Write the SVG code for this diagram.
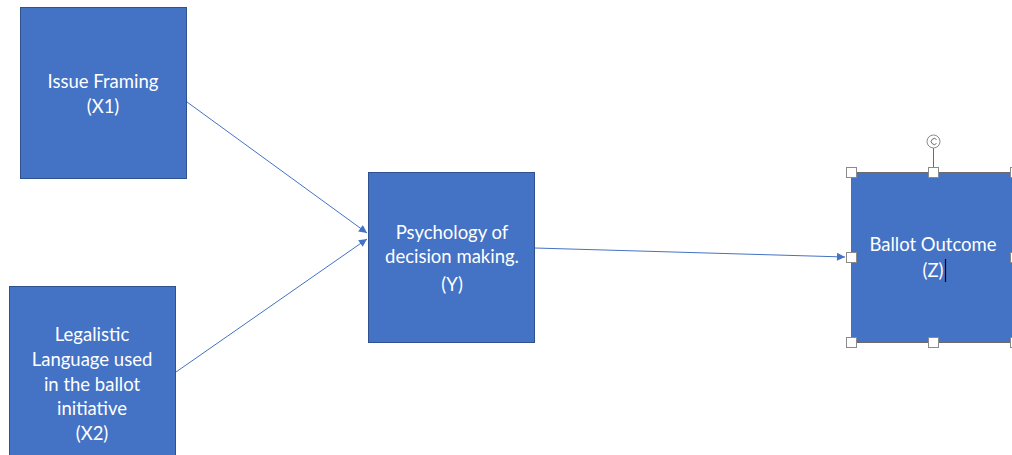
<svg xmlns="http://www.w3.org/2000/svg" width="1012" height="455" viewBox="0 0 1012 455">
<style>
.box{fill:#4472C4;stroke:#2F528F;stroke-width:1}
.sel{fill:#4472C4;stroke:#6b6b6b;stroke-width:1}
.t{font-family:Lato,"Liberation Sans",Arial,sans-serif;font-size:18.5px;fill:#ffffff;text-anchor:middle}
.c{stroke:#4472C4;stroke-width:1;fill:none;marker-end:url(#ah)}
.h{fill:#ffffff;stroke:#8a8a8a;stroke-width:1}
</style>
<defs>
<marker id="ah" viewBox="0 0 10 10" refX="10" refY="5" markerWidth="9" markerHeight="8" markerUnits="userSpaceOnUse" orient="auto">
<path d="M0,0 L10,5 L0,10 Z" fill="#4472C4"/>
</marker>
</defs>
<rect width="1012" height="455" fill="#ffffff"/>
<g id="connectors">
<line class="c" x1="187" y1="102" x2="367" y2="233"/>
<line class="c" x1="176" y1="372" x2="367" y2="239"/>
<line class="c" x1="535" y1="248" x2="845" y2="257"/>
</g>
<g id="node-x1">
<rect class="box" x="20.5" y="7.5" width="166" height="171"/>
<text class="t" x="103" y="88">Issue Framing</text>
<text class="t" x="103" y="113">(X1)</text>
</g>
<g id="node-x2">
<rect class="box" x="9.5" y="286.5" width="166" height="175"/>
<text class="t" x="92" y="341">Legalistic</text>
<text class="t" x="92" y="366">Language used</text>
<text class="t" x="92" y="391">in the ballot</text>
<text class="t" x="92" y="415">initiative</text>
<text class="t" x="92" y="440">(X2)</text>
</g>
<g id="node-y">
<rect class="box" x="368.5" y="172.5" width="166" height="170"/>
<text class="t" x="452" y="239">Psychology of</text>
<text class="t" x="452" y="263">decision making.</text>
<text class="t" x="452" y="291">(Y)</text>
</g>
<g id="node-z">
<rect class="sel" x="851.5" y="172.5" width="164" height="170"/>
<text class="t" x="933" y="251">Ballot Outcome</text>
<text class="t" x="933" y="277">(Z)</text>
<line x1="945.5" y1="259" x2="945.5" y2="282" stroke="#000000" stroke-width="1.2"/>
<line x1="933.5" y1="148" x2="933.5" y2="167" stroke="#6b6b6b" stroke-width="1"/>
<circle cx="933.5" cy="141.5" r="6.5" fill="#ffffff" stroke="#8a8a8a" stroke-width="1"/>
<path d="M936.5,139.5 A3,3 0 1 0 936.5,143.5" fill="none" stroke="#6b6b6b" stroke-width="1"/>
<rect class="h" x="846.5" y="167.5" width="10" height="10"/>
<rect class="h" x="928.5" y="167.5" width="10" height="10"/>
<rect class="h" x="1010.5" y="167.5" width="10" height="10"/>
<rect class="h" x="846.5" y="252.5" width="10" height="10"/>
<rect class="h" x="1010.5" y="252.5" width="10" height="10"/>
<rect class="h" x="846.5" y="337.5" width="10" height="10"/>
<rect class="h" x="928.5" y="337.5" width="10" height="10"/>
<rect class="h" x="1010.5" y="337.5" width="10" height="10"/>
</g>
</svg>
